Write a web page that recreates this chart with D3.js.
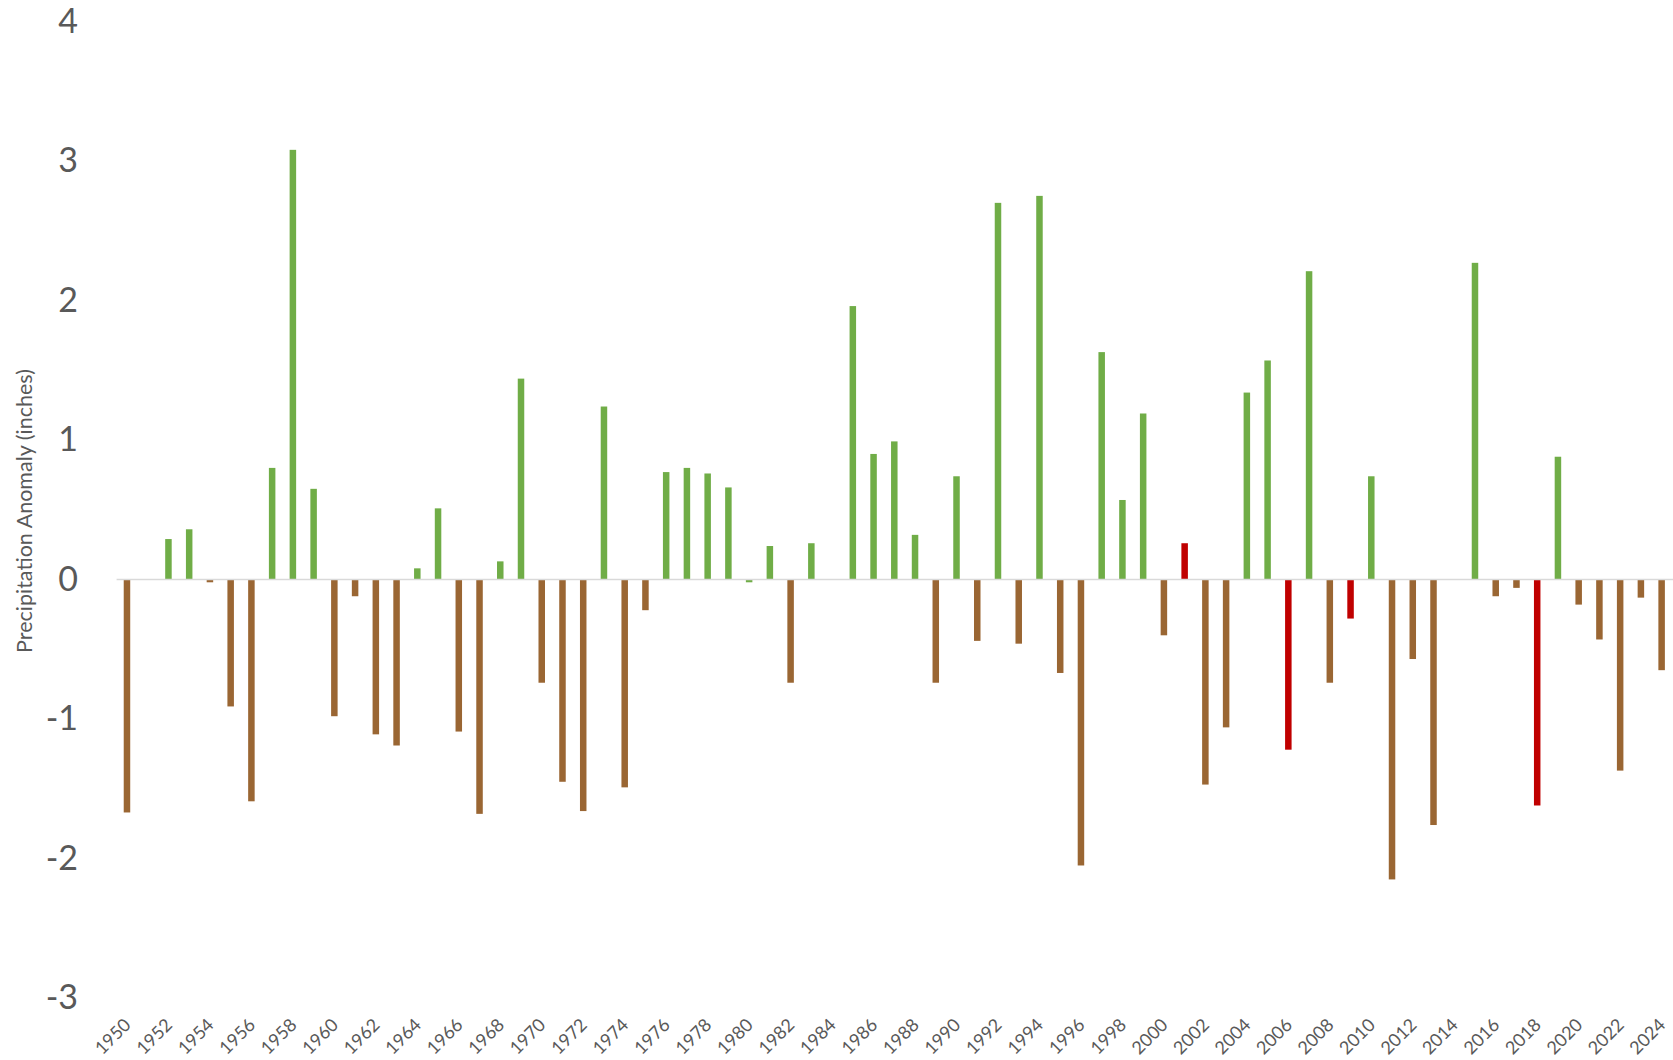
<!DOCTYPE html>
<html>
<head>
<meta charset="utf-8">
<script src="https://cdn.jsdelivr.net/npm/d3@7"></script>
<style>
  html, body { margin: 0; padding: 0; background: #ffffff; }
  svg { display: block; }
</style>
</head>
<body>
<svg id="chart" width="1673" height="1060"></svg>
<script>
// ---- Data ----
const years = d3.range(1950, 2025);
const anomalies = [
  -1.67, 0.00, 0.29, 0.36, -0.02, -0.91, -1.59, 0.80, 3.08, 0.65,   // 1950-1959
  -0.98, -0.12, -1.11, -1.19, 0.08, 0.51, -1.09, -1.68, 0.13, 1.44, // 1960-1969
  -0.74, -1.45, -1.66, 1.24, -1.49, -0.22, 0.77, 0.80, 0.76, 0.66,  // 1970-1979
  -0.02, 0.24, -0.74, 0.26, 0.00, 1.96, 0.90, 0.99, 0.32, -0.74,    // 1980-1989
  0.74, -0.44, 2.70, -0.46, 2.75, -0.67, -2.05, 1.63, 0.57, 1.19,   // 1990-1999
  -0.40, 0.26, -1.47, -1.06, 1.34, 1.57, -1.22, 2.21, -0.74, -0.28, // 2000-2009
  0.74, -2.15, -0.57, -1.76, 0.00, 2.27, -0.12, -0.06, -1.62, 0.88, // 2010-2019
  -0.18, -0.43, -1.37, -0.13, -0.65                                 // 2020-2024
];
// bar category: g = wet (green), b = dry (brown), r = highlighted (red)
const barClass = [
  "b","b","g","g","b","b","b","g","g","g",
  "b","b","b","b","g","g","b","b","g","g",
  "b","b","b","g","b","b","g","g","g","g",
  "g","g","b","g","g","g","g","g","g","b",
  "g","b","g","b","g","b","b","g","g","g",
  "b","r","b","b","g","g","r","g","b","r",
  "g","b","b","b","g","g","b","b","r","g",
  "b","b","b","b","b"
];
const yTicks = [-3, -2, -1, 0, 1, 2, 3, 4];
const xTickYears = years.filter(y => y % 2 === 0);
const yTitle = "Precipitation Anomaly (inches)";

const palette = { g: "#70AD47", b: "#9A6633", r: "#C00000" };
const textColor = "#595959";
const font = "Lato, 'Open Sans', sans-serif";

// ---- Layout ----
const svg = d3.select("#chart");
const plotLeft = 116.6, plotRight = 1672, plotTop = 21.5, plotBottom = 998;

const x = d3.scaleBand().domain(years).range([plotLeft, plotRight]).padding(0);
const y = d3.scaleLinear().domain([-3, 4]).range([plotBottom, plotTop]);
const barW = 6.5;

const data = years.map((yr, i) => ({ year: yr, value: anomalies[i], cls: barClass[i] }));

// Bars
svg.append("g").selectAll("rect").data(data).join("rect")
  .attr("x", d => x(d.year) + x.bandwidth() / 2 - barW / 2)
  .attr("width", barW)
  .attr("y", d => Math.min(y(d.value), y(0)))
  .attr("height", d => Math.abs(y(d.value) - y(0)))
  .attr("fill", d => palette[d.cls]);

// Zero line
svg.append("line")
  .attr("x1", plotLeft).attr("x2", 1673)
  .attr("y1", y(0)).attr("y2", y(0))
  .attr("stroke", "#d9d9d9").attr("stroke-width", 1.5);

// Y axis
const yAxis = svg.append("g")
  .attr("transform", "translate(80,0)")
  .call(d3.axisLeft(y).tickValues(yTicks).tickSize(0).tickPadding(2).tickFormat(d => String(d)));
yAxis.select(".domain").remove();
yAxis.selectAll("text")
  .attr("font-family", font).attr("font-size", 34).attr("fill", textColor);

// X axis
const xAxis = svg.append("g")
  .attr("transform", `translate(0,${plotBottom})`)
  .call(d3.axisBottom(x).tickValues(xTickYears).tickSize(0));
xAxis.select(".domain").remove();
xAxis.selectAll("text")
  .attr("y", null).attr("dy", null)
  .attr("transform", "translate(5,28) rotate(-45)")
  .attr("text-anchor", "end")
  .attr("font-family", font).attr("font-size", 18).attr("fill", textColor);

// Y title
svg.append("text")
  .attr("transform", "translate(32,511) rotate(-90)")
  .attr("text-anchor", "middle")
  .attr("font-family", font).attr("font-size", 21.5).attr("fill", textColor)
  .text(yTitle);
</script>
</body>
</html>
